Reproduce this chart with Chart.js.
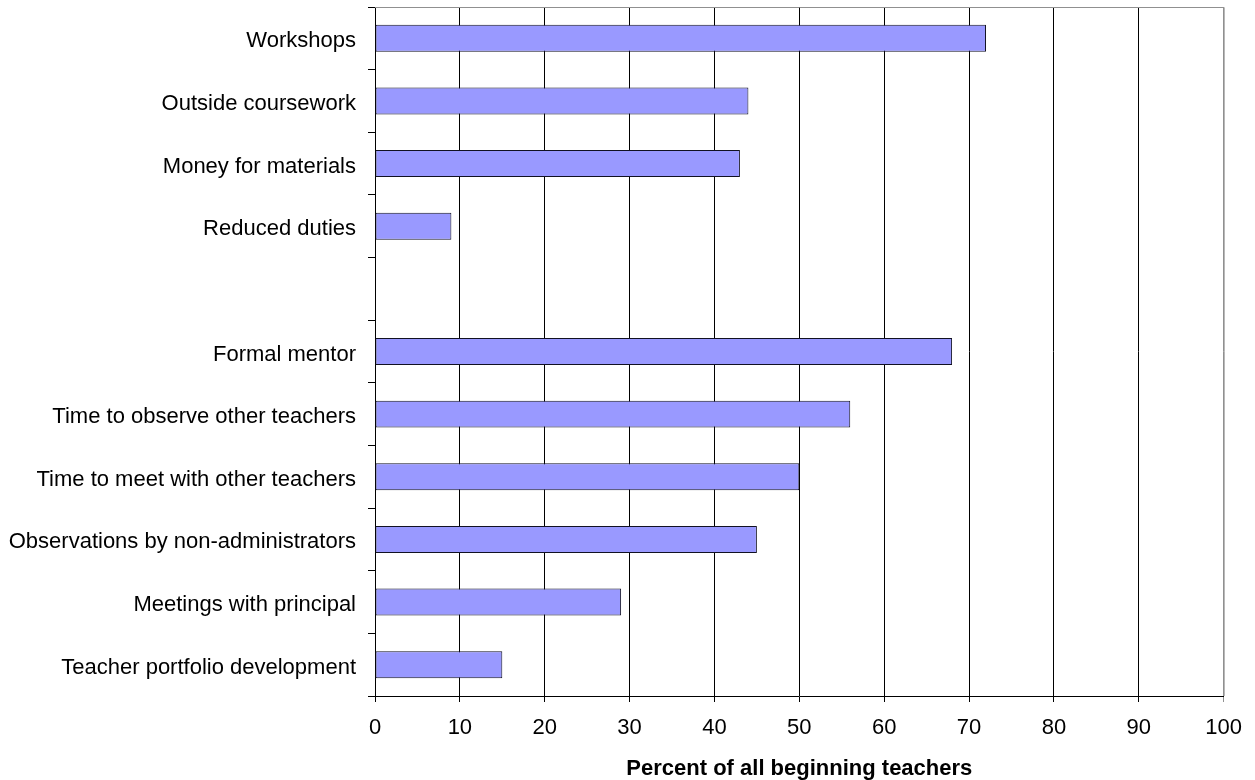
<!DOCTYPE html>
<html>
<head>
<meta charset="utf-8">
<script src="https://cdn.jsdelivr.net/npm/chart.js@4.4.0/dist/chart.umd.min.js"></script>
<style>
  html, body { margin: 0; padding: 0; background: #fff; }
  #wrap { width: 1255px; height: 780px; }
</style>
</head>
<body>
<div id="wrap"><canvas id="supportChart" width="1255" height="780"></canvas></div>
<script>
// categories, top to bottom (empty one is the gap between the two groups)
const categories = [
    'Workshops',
    'Outside coursework',
    'Money for materials',
    'Reduced duties',
    '',
    'Formal mentor',
    'Time to observe other teachers',
    'Time to meet with other teachers',
    'Observations by non-administrators',
    'Meetings with principal',
    'Teacher portfolio development'
];

// percent of all beginning teachers
const percentValues = [72, 44, 43, 9, null, 68, 56, 50, 45, 29, 15];

const xTicks = [0, 10, 20, 30, 40, 50, 60, 70, 80, 90, 100];

const FONT = "'Liberation Sans', Arial, sans-serif";

// gray frame on top and right of plot area
const plotFrame = {
    id: 'plotFrame',
    afterDraw(chart) {
        const { ctx, chartArea } = chart;
        ctx.save();
        ctx.strokeStyle = '#909090';
        ctx.lineWidth = 1;
        ctx.beginPath();
        ctx.moveTo(chartArea.left, chartArea.top + 0.5);
        ctx.lineTo(chartArea.right + 0.5, chartArea.top + 0.5);
        ctx.lineTo(chartArea.right + 0.5, chartArea.bottom);
        ctx.stroke();
        ctx.restore();
    }
};

const ctx = document.getElementById('supportChart').getContext('2d');

new Chart(ctx, {
    type: 'bar',
    data: {
        labels: categories,
        datasets: [{
            data: percentValues,
            backgroundColor: '#9999FF',
            borderColor: '#111122',
            borderWidth: 1,
            borderSkipped: false,
            categoryPercentage: 1.0,
            barPercentage: 0.43
        }]
    },
    options: {
        indexAxis: 'y',
        responsive: false,
        animation: false,
        layout: {
            padding: { top: 7, right: 28, left: 0, bottom: -5 }
        },
        plugins: {
            legend: { display: false },
            tooltip: { enabled: false }
        },
        scales: {
            x: {
                min: 0,
                max: 100,
                afterBuildTicks(scale) {
                    scale.ticks = xTicks.map(v => ({ value: v }));
                },
                afterFit(scale) {
                    scale.height = 89;
                },
                grid: {
                    color: (c) => c.tick && c.tick.value === 100 ? '#909090' : '#000',
                    lineWidth: 1,
                    tickLength: 6,
                    drawTicks: true
                },
                border: { color: '#000', width: 1 },
                ticks: {
                    color: '#000',
                    padding: 13,
                    font: { family: FONT, size: 22 }
                },
                title: {
                    display: true,
                    text: 'Percent of all beginning teachers',
                    color: '#000',
                    padding: { top: 4, bottom: 3 },
                    font: { family: FONT, size: 22, weight: 'bold' }
                }
            },
            y: {
                offset: true,
                afterFit(scale) {
                    scale.width = 375;
                    scale.paddingTop = 0;
                    scale.paddingBottom = 0;
                },
                grid: {
                    offset: true,
                    drawOnChartArea: false,
                    drawTicks: true,
                    tickLength: 7,
                    color: '#000'
                },
                border: { color: '#000', width: 1 },
                ticks: {
                    color: '#000',
                    padding: 12,
                    labelOffset: 3,
                    autoSkip: false,
                    font: { family: FONT, size: 22 }
                }
            }
        }
    },
    plugins: [plotFrame]
});
</script>
</body>
</html>
